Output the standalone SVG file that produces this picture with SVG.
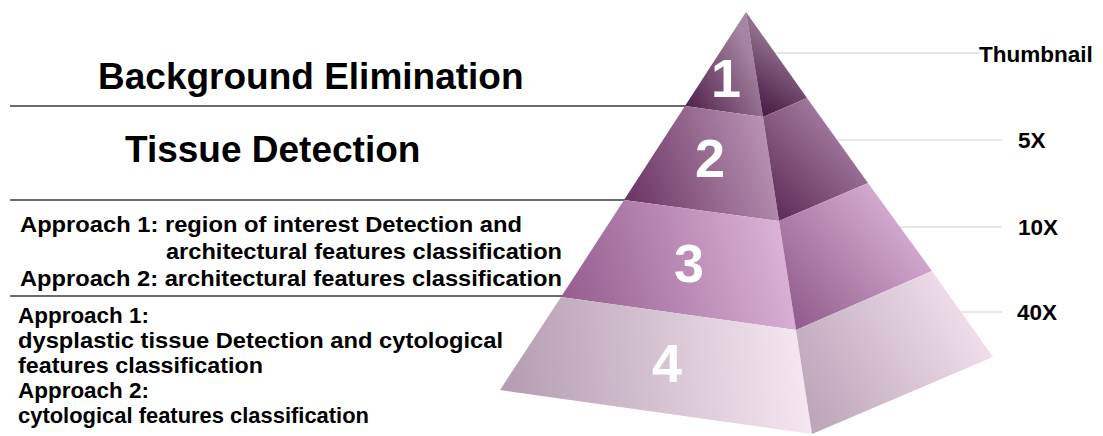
<svg xmlns="http://www.w3.org/2000/svg" width="1103" height="436" viewBox="0 0 1103 436">
  <style>
    .lbl { font-family: "Liberation Sans", Arial, sans-serif; font-weight: bold; fill: #000; }
    .big { font-size: 37px; }
    .mid { font-size: 22.5px; }
    .res { font-size: 22.5px; }
    .num { font-family: "Liberation Sans", Arial, sans-serif; font-weight: bold; font-size: 54px; fill: #fff; text-anchor: middle; }
    .rule { stroke: #3a3a3a; stroke-width: 1.6; fill: none; }
    .lead { stroke: #d2d2d2; stroke-width: 1.2; fill: none; }
  </style>
  <defs>
    <!-- front faces: dark at lower left, light toward the ridge -->
    <linearGradient id="f1" gradientUnits="userSpaceOnUse" x1="688" y1="108" x2="760" y2="70">
      <stop offset="0" stop-color="#52224d"/>
      <stop offset="1" stop-color="#a584a1"/>
    </linearGradient>
    <linearGradient id="f2" gradientUnits="userSpaceOnUse" x1="630" y1="200" x2="775" y2="150">
      <stop offset="0" stop-color="#6c3766"/>
      <stop offset="1" stop-color="#b993b5"/>
    </linearGradient>
    <linearGradient id="f3" gradientUnits="userSpaceOnUse" x1="565" y1="300" x2="795" y2="240">
      <stop offset="0" stop-color="#955e8f"/>
      <stop offset="1" stop-color="#deb6db"/>
    </linearGradient>
    <linearGradient id="f4" gradientUnits="userSpaceOnUse" x1="505" y1="390" x2="810" y2="360">
      <stop offset="0" stop-color="#b49db0"/>
      <stop offset="1" stop-color="#f6e8f2"/>
    </linearGradient>
    <!-- right faces: dark along the ridge, lighter toward the outer edge -->
    <linearGradient id="r1" gradientUnits="userSpaceOnUse" x1="765" y1="112" x2="800" y2="60">
      <stop offset="0" stop-color="#4b1f46"/>
      <stop offset="1" stop-color="#8f6c8c"/>
    </linearGradient>
    <linearGradient id="r2" gradientUnits="userSpaceOnUse" x1="782" y1="215" x2="860" y2="140">
      <stop offset="0" stop-color="#62305c"/>
      <stop offset="1" stop-color="#a57da2"/>
    </linearGradient>
    <linearGradient id="r3" gradientUnits="userSpaceOnUse" x1="800" y1="325" x2="920" y2="225">
      <stop offset="0" stop-color="#935e8e"/>
      <stop offset="1" stop-color="#d8b0d4"/>
    </linearGradient>
    <linearGradient id="r4" gradientUnits="userSpaceOnUse" x1="815" y1="425" x2="985" y2="330">
      <stop offset="0" stop-color="#bca6b8"/>
      <stop offset="1" stop-color="#f1dfec"/>
    </linearGradient>
  </defs>

  <rect width="1103" height="436" fill="#fff"/>

  <!-- separators on the left and leaders to the magnification labels -->
  <g id="connectors">
    <line class="rule" x1="10" y1="106" x2="686" y2="106"/>
    <line class="rule" x1="10" y1="200" x2="625" y2="200"/>
    <line class="rule" x1="10" y1="296" x2="562" y2="296"/>
    <line class="lead" x1="770" y1="53" x2="980" y2="53"/>
    <line class="lead" x1="830" y1="140" x2="1002" y2="140"/>
    <line class="lead" x1="895" y1="227" x2="1002" y2="227"/>
    <line class="lead" x1="955" y1="312" x2="1002" y2="312"/>
  </g>

  <g id="level1">
    <polygon points="746,12 763,117 685,106" fill="url(#f1)"/>
    <polygon points="746,12 807,98 763,117" fill="url(#r1)"/>
    <text class="num" x="726" y="97">1</text>
    <text class="lbl big" x="98" y="89">Background Elimination</text>
    <text class="lbl res" x="979" y="62">Thumbnail</text>
  </g>

  <g id="level2">
    <polygon points="685,106 763,117 779,221 624,200" fill="url(#f2)"/>
    <polygon points="763,117 807,98 868,183 779,221" fill="url(#r2)"/>
    <text class="num" x="710" y="177">2</text>
    <text class="lbl big" x="125" y="162">Tissue Detection</text>
    <text class="lbl res" x="1018" y="148">5X</text>
  </g>

  <g id="level3">
    <polygon points="624,200 779,221 796,330 561,297" fill="url(#f3)"/>
    <polygon points="779,221 868,183 932,271 796,330" fill="url(#r3)"/>
    <text class="num" x="689" y="282">3</text>
    <text class="lbl mid" x="20" y="232" textLength="502" lengthAdjust="spacingAndGlyphs">Approach 1: region of interest Detection and</text>
    <text class="lbl mid" x="166" y="259" textLength="396" lengthAdjust="spacingAndGlyphs">architectural features classification</text>
    <text class="lbl mid" x="20" y="286" textLength="542" lengthAdjust="spacingAndGlyphs">Approach 2: architectural features classification</text>
    <text class="lbl res" x="1018" y="235">10X</text>
  </g>

  <g id="level4">
    <polygon points="561,297 796,330 812,434 500,390" fill="url(#f4)"/>
    <polygon points="796,330 932,271 993,357 812,434" fill="url(#r4)"/>
    <text class="num" x="667" y="382">4</text>
    <text class="lbl mid" x="18" y="323" textLength="131" lengthAdjust="spacingAndGlyphs">Approach 1:</text>
    <text class="lbl mid" x="18" y="348" textLength="485" lengthAdjust="spacingAndGlyphs">dysplastic tissue Detection and cytological</text>
    <text class="lbl mid" x="18" y="373" textLength="245" lengthAdjust="spacingAndGlyphs">features classification</text>
    <text class="lbl mid" x="18" y="398" textLength="131" lengthAdjust="spacingAndGlyphs">Approach 2:</text>
    <text class="lbl mid" x="18" y="423" textLength="351" lengthAdjust="spacingAndGlyphs">cytological features classification</text>
    <text class="lbl res" x="1017" y="320">40X</text>
  </g>
</svg>
